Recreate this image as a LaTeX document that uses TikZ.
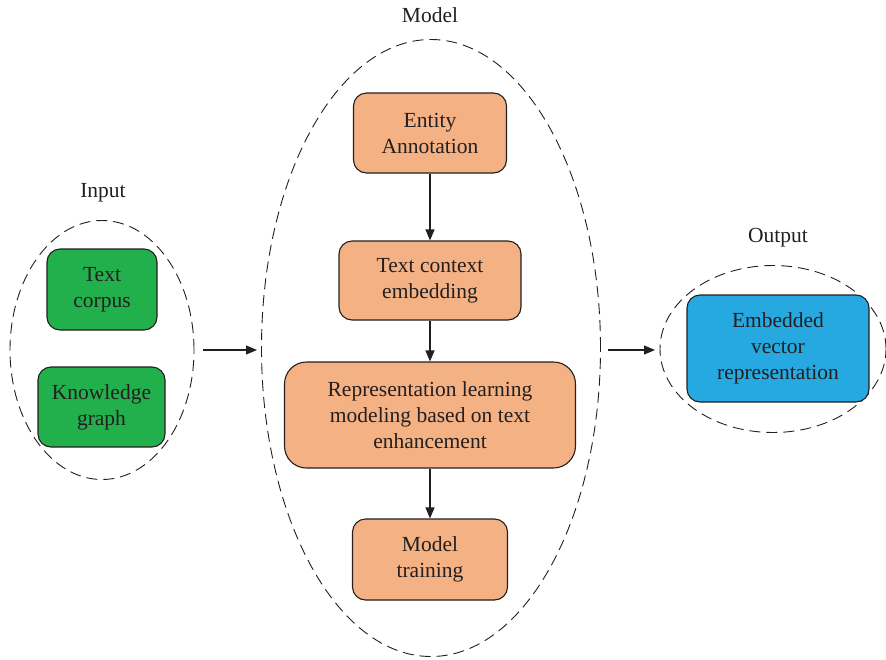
\documentclass[tikz,border=0pt]{standalone}
\usepackage{fontspec}
\setmainfont{Liberation Serif}
\usetikzlibrary{arrows.meta,shapes.geometric}
\definecolor{inputgreen}{RGB}{34,176,76}
\definecolor{modelorange}{RGB}{244,177,131}
\definecolor{outputblue}{RGB}{38,169,224}
\definecolor{inkgray}{RGB}{35,31,32}
\tikzset{
  box/.style={draw=inkgray, line width=1.1pt, rounded corners=13pt, align=center,
    inner sep=0pt, font=\fontsize{21.5}{26}\selectfont, text=inkgray},
  group/.style={ellipse, draw=inkgray, line width=0.9pt, dash pattern=on 11pt off 6pt,
    inner sep=0pt},
  grouplabel/.style={font=\fontsize{21.5}{24}\selectfont, text=inkgray},
  flow/.style={draw=inkgray, line width=1.1pt, -{Triangle[length=11pt,width=9pt]}}
}
\begin{document}
\begin{tikzpicture}[x=1pt,y=-1pt]
\useasboundingbox (0,0) rectangle (886,659);

% group outlines
\node[group, minimum width=184pt, minimum height=259pt] (gin) at (102,350) {};
\node[group, minimum width=339pt, minimum height=617pt] (gmodel) at (431,348) {};
\node[group, minimum width=226pt, minimum height=167pt] (gout) at (773,349) {};

% group titles
\node[grouplabel] (lin) at (103,193) {Input};
\node[grouplabel] (lmodel) at (430,15) {Model};
\node[grouplabel] (lout) at (778,238) {Output};

% input boxes
\node[box, fill=inputgreen, minimum width=110pt, minimum height=81pt] (corpus) at (102,289.5) {Text\\corpus};
\node[box, fill=inputgreen, minimum width=127pt, minimum height=80pt] (kg) at (101.5,407) {Knowledge\\graph};

% model pipeline
\node[box, fill=modelorange, minimum width=153pt, minimum height=80pt] (ent) at (430,133) {Entity\\Annotation};
\node[box, fill=modelorange, minimum width=182pt, minimum height=79pt] (ctx) at (430,280.5) {Text context\\embedding};
\node[box, fill=modelorange, minimum width=291pt, minimum height=106pt, rounded corners=22pt] (rep) at (430,415) {Representation learning\\modeling based on text\\enhancement};
\node[box, fill=modelorange, minimum width=155pt, minimum height=81pt] (train) at (430,559.5) {Model\\training};

% output box
\node[box, fill=outputblue, minimum width=182pt, minimum height=107pt] (emb) at (778,348.5) {Embedded\\vector\\representation};

% connectors
\coordinate (a1s) at (203,350);
\coordinate (a1e) at (257,350);
\coordinate (a2s) at (608,350);
\coordinate (a2e) at (655,350);
\draw[flow] (a1s) -- (a1e);
\draw[flow] (a2s) -- (a2e);
\draw[flow] (ent) -- (ctx);
\draw[flow] (ctx) -- (rep);
\draw[flow] (rep) -- (train);
\end{tikzpicture}
\end{document}
